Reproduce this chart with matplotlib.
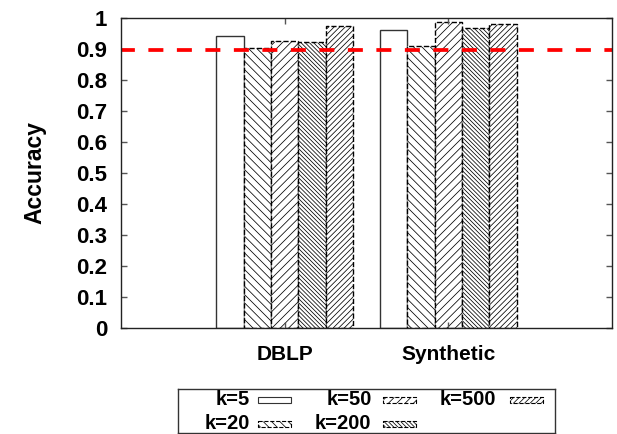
import numpy as np
import matplotlib
matplotlib.use("Agg")
import matplotlib.pyplot as plt
from matplotlib.patches import Rectangle

plt.rcParams['font.family'] = ['Liberation Sans', 'DejaVu Sans']
plt.rcParams['font.weight'] = 'bold'
plt.rcParams['hatch.linewidth'] = 0.55

datasets = ['DBLP', 'Synthetic']
k_labels = ['k=5', 'k=20', 'k=50', 'k=200', 'k=500']
dblp = [0.941, 0.901, 0.924, 0.922, 0.973]
synthetic = [0.960, 0.908, 0.986, 0.965, 0.979]
baseline = 0.895
yticks = [0, 0.1, 0.2, 0.3, 0.4, 0.5, 0.6, 0.7, 0.8, 0.9, 1]
ytick_labels = ['0', '0.1', '0.2', '0.3', '0.4', '0.5', '0.6', '0.7', '0.8', '0.9', '1']

hatches = ['', '\\' * 4, '/' * 4, '\\' * 8, '/' * 6]
edge_styles = ['solid', 'dashed', 'dashed', 'dashed', 'dashed']
edge_colors = ['#333333', 'black', 'black', 'black', 'black']

values = np.array([dblp, synthetic])
x = np.arange(1, len(datasets) + 1)
width = 1 / 6

fig = plt.figure(figsize=(6.17, 4.34), dpi=100)
ax = fig.add_axes([121 / 617, 1 - 328 / 434, (612 - 121) / 617, (328 - 17.5) / 434])

for i in range(len(k_labels)):
    ax.bar(x + (i - 2) * width, values[:, i], width, color='white',
           edgecolor=edge_colors[i], hatch=hatches[i], linestyle=edge_styles[i],
           linewidth=1.0)

ax.axhline(baseline, color='red', linewidth=2.7, linestyle=(0.3, (4, 3.6)))

ax.set_xlim(0, 3)
ax.set_ylim(0, 1)
ax.set_xticks(x)
ax.set_xticklabels(datasets, fontsize=15, fontweight='bold')
ax.set_yticks(yticks)
ax.set_yticklabels(ytick_labels, fontsize=16, fontweight='bold')
ax.tick_params(axis='both', direction='in', length=4, width=1,
               top=True, right=True, color='#555555')
ax.tick_params(axis='x', pad=12)
ax.tick_params(axis='y', pad=10)
ax.set_ylabel('Accuracy', fontsize=16.5, fontweight='bold', labelpad=21)
for s in ax.spines.values():
    s.set_linewidth(1.0)
    s.set_color('#222222')

# legend box drawn in pixel coordinates, gnuplot style (text right-aligned)
lx0, lx1, ly0, ly1 = 178, 555, 389, 433
lax = fig.add_axes([lx0 / 617, 1 - ly1 / 434, (lx1 - lx0) / 617, (ly1 - ly0) / 434])
lax.set_xlim(lx0, lx1)
lax.set_ylim(ly1, ly0)
lax.set_xticks([])
lax.set_yticks([])
for s in lax.spines.values():
    s.set_linewidth(1.0)
    s.set_color('#333333')

text_right = [250, 371.5, 496.5]
swatch_left = [258, 383, 510]
row_y = [399.5, 423.5]
for i, lab in enumerate(k_labels):
    col, row = i // 2, i % 2
    lax.text(text_right[col], row_y[row], lab, ha='right', va='center',
             fontsize=14.5, fontweight='bold')
    lax.add_patch(Rectangle((swatch_left[col], row_y[row] - 2.5), 33, 6,
                            facecolor='white', edgecolor=edge_colors[i],
                            hatch=hatches[i], linestyle=edge_styles[i],
                            linewidth=0.8))

fig.savefig('out.png', dpi=100)
